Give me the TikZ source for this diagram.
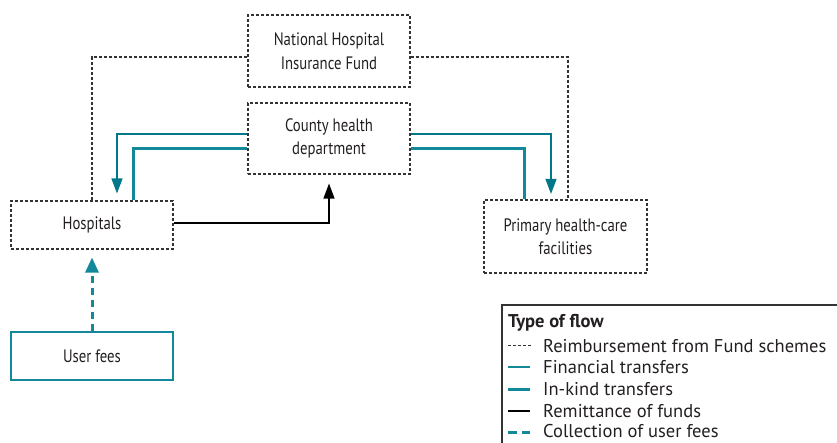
\documentclass[tikz,border=0pt]{standalone}
\usepackage{fontspec}
\setmainfont[FakeStretch=0.82]{PT Sans}
\newfontfamily\legfont{PT Sans}
\usetikzlibrary{arrows.meta}
\definecolor{tealA}{HTML}{13889A}
\definecolor{tealD}{HTML}{00788A}
\definecolor{grayL}{HTML}{333333}
\definecolor{txtC}{HTML}{231F20}
\begin{document}
\begin{tikzpicture}[x=1pt,y=-1pt,
  font=\fontsize{18}{23.5}\selectfont, text=txtC,
  box/.style={draw=grayL, dash pattern=on 3pt off 2pt, line width=1.1pt, align=center, inner sep=0pt, minimum width=162pt},
  ufbox/.style={draw=tealA, line width=1.3pt, align=center, inner sep=0pt, minimum width=162pt, minimum height=48pt},
  reimb/.style={draw=grayL, dash pattern=on 3pt off 2pt, line width=1.1pt},
  fin/.style={draw=tealA, line width=1.2pt, -{Triangle[width=11pt,length=15pt]}, tealD},
  inkind/.style={draw=tealA, line width=3pt},
  remit/.style={draw=black, line width=1.2pt, -{Triangle[width=11pt,length=15pt]}},
  coll/.style={draw=tealA, line width=3pt, dash pattern=on 7pt off 5pt, -{Triangle[width=13pt,length=15pt]}},
  legtxt/.style={anchor=base west, inner sep=0pt, font=\legfont\fontsize{18.5}{20}\selectfont}]
\useasboundingbox (0,0) rectangle (837,443);
\node[box, minimum height=72pt] (nhif) at (329,51) {National Hospital\\Insurance Fund};
\node[box, minimum height=71pt] (county) at (329,138.5) {County health\\department};
\node[box, minimum height=48pt] (hosp) at (92,225) {Hospitals};
\node[box, minimum width=163pt, minimum height=73pt] (prim) at (565.5,236.5) {Primary health-care\\facilities};
\node[ufbox] (uf) at (92,356) {User fees};
% reimbursement
\draw[reimb] ([yshift=-6pt]nhif.west) -| (hosp.north);
\draw[reimb] ([yshift=-6pt]nhif.east) -| ([xshift=2.5pt]prim.north);
% financial
\draw[fin] ([yshift=4.5pt]county.west) -| ([xshift=25pt,yshift=7pt]hosp.north);
\draw[fin] ([yshift=4.5pt]county.east) -| ([xshift=-14.5pt,yshift=5.5pt]prim.north);
% in-kind
\draw[inkind] ([yshift=-10.5pt]county.west) -| ([xshift=41pt]hosp.north);
\draw[inkind] ([yshift=-10.5pt]county.east) -| ([xshift=-41.5pt]prim.north);
% remittance
\draw[remit] ([yshift=2pt]hosp.east) -| ([yshift=-9pt]county.south);
% collection
\draw[coll] (uf.north) -- ([yshift=-8pt]hosp.south);
% legend
\begin{scope}
\clip (0,0) rectangle (837,443);
\draw[draw=grayL, line width=1.2pt] (502,305) rectangle (850,460);
\end{scope}
\node[legtxt, font=\legfont\fontsize{18.5}{20}\selectfont\bfseries] (lt) at (508,327) {Type of flow};
\node[legtxt] (l1) at (543,352) {Reimbursement from Fund schemes};
\node[legtxt] (l2) at (543,373) {Financial transfers};
\node[legtxt] (l3) at (543,395) {In-kind transfers};
\node[legtxt] (l4) at (543,417) {Remittance of funds};
\node[legtxt] (l5) at (543,437) {Collection of user fees};
\coordinate (s1a) at (508,345); \coordinate (s1b) at (531,345);
\coordinate (s2a) at (508,367); \coordinate (s2b) at (530,367);
\coordinate (s3a) at (508,389); \coordinate (s3b) at (530,389);
\coordinate (s4a) at (508,411); \coordinate (s4b) at (530,411);
\coordinate (s5a) at (508,432); \coordinate (s5b) at (530,432);
\draw[reimb, line width=0.9pt] (s1a) -- (s1b);
\draw[draw=tealA, line width=1.1pt] (s2a) -- (s2b);
\draw[inkind] (s3a) -- (s3b);
\draw[draw=black, line width=1.2pt] (s4a) -- (s4b);
\draw[draw=tealA, line width=3pt, dash pattern=on 9pt off 5pt] (s5a) -- (s5b);
\end{tikzpicture}
\end{document}
